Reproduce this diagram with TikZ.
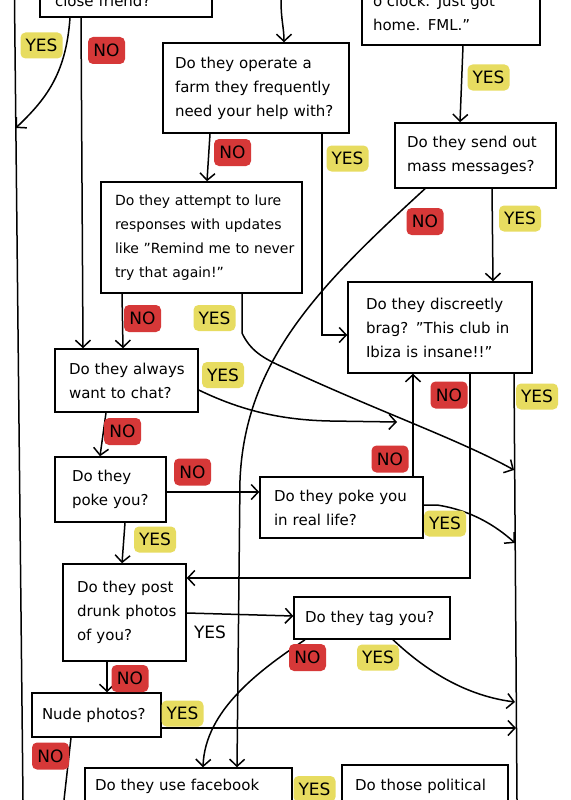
\documentclass[tikz,border=0pt]{standalone}
\usepackage{fontspec}
\setmainfont{DejaVu Sans}
\usetikzlibrary{arrows.meta}
\definecolor{yesc}{RGB}{231,220,96}
\definecolor{noc}{RGB}{214,56,56}
\newcommand\myline[1]{\mbox{#1}}
\begin{document}
\begin{tikzpicture}[x=1pt,y=-1pt,
  qbox/.style={draw, line width=1.5pt, inner ysep=0pt, align=left, font=\fontsize{15}{24}\selectfont},
  yeslab/.style={fill=yesc, rounded corners=5pt, inner sep=2pt, minimum width=42pt, minimum height=26pt, font=\fontsize{17}{17}\selectfont},
  nolab/.style={fill=noc, rounded corners=5pt, inner sep=2pt, minimum width=37pt, minimum height=27pt, font=\fontsize{17}{17}\selectfont},
  plainlab/.style={inner sep=2pt, font=\fontsize{17}{17}\selectfont},
  conn/.style={line width=1.5pt},
  arr/.style={conn, -{Straight Barb[length=7pt,width=15pt]}},
]
\useasboundingbox (0,0) rectangle (570,800);
\fill[white] (0,0) rectangle (570,800);
\clip (0,0) rectangle (570,800);

% question boxes
\node[qbox, minimum height=33pt, text width=142pt, inner xsep=15pt] (b1) at (126,0.5) {\myline{close friend?}};
\node[qbox, minimum height=65pt, text width=156pt, inner xsep=11pt] (b2) at (451,12.5) {\myline{o'clock. Just got}\\\myline{home. FML."}};
\node[qbox, minimum height=90pt, text width=162pt, inner xsep=12pt] (b3) at (256,88) {\myline{Do they operate a}\\\myline{farm they frequently}\\\myline{need your help with?}};
\node[qbox, minimum height=65pt, text width=137pt, inner xsep=12pt] (b4) at (475.5,155.5) {\myline{Do they send out}\\\myline{mass messages?}};
\node[qbox, minimum height=111pt, text width=173pt, inner xsep=14pt, font=\fontsize{14}{24}\selectfont] (b5) at (201.5,237.5) {\myline{Do they attempt to lure}\\\myline{responses with updates}\\\myline{like "Remind me to never}\\\myline{try that again!"}};
\node[qbox, minimum height=91pt, text width=148pt, inner xsep=18pt] (b6) at (440,327.5) {\myline{Do they discreetly}\\\myline{brag? "This club in}\\\myline{Ibiza is insane!!"}};
\node[qbox, minimum height=63pt, text width=115pt, inner xsep=14pt] (b7) at (126.5,380.5) {\myline{Do they always}\\\myline{want to chat?}};
\node[qbox, minimum height=65pt, text width=77pt, inner xsep=17pt] (b8) at (110.5,489.5) {\myline{Do they}\\\myline{poke you?}};
\node[qbox, minimum height=61pt, text width=135pt, inner xsep=14pt] (b9) at (341.5,507.5) {\myline{Do they poke you}\\\myline{in real life?}};
\node[qbox, minimum height=97pt, text width=95pt, inner xsep=14pt] (b10) at (124.5,612.5) {\myline{Do they post}\\\myline{drunk photos}\\\myline{of you?}};
\node[qbox, minimum height=42pt, text width=134pt, inner xsep=11pt] (b11) at (372,618) {\myline{Do they tag you?}};
\node[qbox, minimum height=44pt, text width=109pt, inner xsep=10pt] (b12) at (96.5,715) {\myline{Nude photos?}};
\node[qbox, minimum height=37pt, text width=187pt, inner xsep=10pt] (b13) at (188.5,786.5) {\myline{Do they use facebook}};
\node[qbox, minimum height=43pt, text width=140pt, inner xsep=13pt] (b14) at (425,786.5) {\myline{Do those political}};

% free ends
\coordinate (ltop) at (14.5,0);
\coordinate (lbot) at (23,800);
\coordinate (lhit) at (15.8,128);
\coordinate (topin) at (281,0);
\coordinate (rbot) at (517,800);
\coordinate (r1) at (514,470);
\coordinate (r2) at (515,543);
\coordinate (r3) at (515,702);
\coordinate (r4) at (516,728);
\coordinate (c7) at (397,422);
\coordinate (nobot) at (64,800);

% connectors
\draw[conn] (ltop) -- (lbot);
\draw[conn] ([xshift=74pt]b6.south) -- (rbot);
\draw[arr] ([xshift=-56pt]b1.south) .. controls (66,75) and (45,100) .. (lhit);
\draw[arr] ([xshift=-45pt]b1.south) -- ([xshift=-43.5pt]b7.north);
\draw[arr] (topin) .. controls (281,20) and (284,28) .. ([xshift=28pt]b3.north);
\draw[arr] ([xshift=12pt]b2.south) -- ([xshift=-15.5pt]b4.north);
\draw[arr] ([xshift=-46pt]b3.south) -- ([xshift=5.5pt]b5.north);
\draw[arr] ([xshift=66pt]b3.south) |- ([yshift=-7.5pt]b6.west);
\draw[arr] ([xshift=16.5pt]b4.south) -- ([xshift=53pt]b6.north);
\draw[arr] ([xshift=-50.5pt]b4.south) .. controls (320,285) and (245,360) .. (240,480) -- ([xshift=48.5pt]b13.north);
\draw[arr] ([xshift=-79.5pt]b5.south) -- ([xshift=-3.5pt]b7.north);
\draw[arr] ([xshift=40.5pt]b5.south) -- (242,333) .. controls (250,350) and (262,358) .. (285,368) .. controls (380,412) and (460,440) .. (r1);
\draw[arr] ([yshift=-9.5pt]b7.east) .. controls (240,410) and (280,420) .. (330,421) -- (c7);
\draw[arr] ([xshift=-20.5pt]b7.south) -- ([xshift=-10.5pt]b8.north);
\draw[arr] ([yshift=-2.5pt]b8.east) -- ([yshift=15.5pt]b9.west);
\draw[arr] ([xshift=14.5pt]b8.south) -- ([xshift=-2.5pt]b10.north);
\draw[arr] ([xshift=71.5pt]b9.north) -- ([xshift=-27pt]b6.south);
\draw[arr] ([yshift=2.5pt]b9.east) -- (437,505) .. controls (470,510) and (495,525) .. (r2);
\draw[arr] ([xshift=30pt]b6.south) |- ([yshift=34.5pt]b10.east);
\draw[arr] ([yshift=-0.5pt]b10.east) -- ([yshift=2pt]b11.west);
\draw[arr] ([xshift=-17.5pt]b10.south) -- ([xshift=10.5pt]b12.north);
\draw[arr] ([xshift=-67pt]b11.south) .. controls (260,670) and (205,710) .. ([xshift=14.5pt]b13.north);
\draw[arr] ([xshift=21pt]b11.south) .. controls (420,665) and (460,695) .. (r3);
\draw[arr] ([yshift=-13pt]b12.east) -- (r4);
\draw[conn] ([xshift=-25.5pt]b12.south) -- (nobot);

% labels
\node[yeslab] (y1) at (41.5,45.5) {YES};
\node[nolab] (n1) at (106.5,50.5) {NO};
\node[yeslab] (y2) at (488.5,77.5) {YES};
\node[nolab] (n3) at (232.5,152.5) {NO};
\node[yeslab] (y3) at (347.5,158.5) {YES};
\node[nolab] (n4) at (425,221.5) {NO};
\node[yeslab] (y4) at (520,218.5) {YES};
\node[nolab] (n5) at (142.5,318.5) {NO};
\node[yeslab] (y5) at (214.5,318) {YES};
\node[yeslab] (y7) at (223,375) {YES};
\node[nolab] (n6) at (449,395) {NO};
\node[yeslab] (y6) at (537,396.5) {YES};
\node[nolab] (n7) at (122.5,431.5) {NO};
\node[nolab] (n9) at (390,459) {NO};
\node[nolab] (n8) at (192.5,472) {NO};
\node[yeslab] (y9) at (445,523.5) {YES};
\node[yeslab] (y8) at (155,539.5) {YES};
\node[plainlab] (y10) at (210,632.5) {YES};
\node[nolab] (n11) at (307.5,657.5) {NO};
\node[yeslab] (y11) at (378,657.5) {YES};
\node[nolab] (n10) at (130,678.5) {NO};
\node[yeslab] (y12) at (182.5,713.5) {YES};
\node[nolab] (n12) at (50.5,756) {NO};
\node[yeslab] (y13) at (314.5,789) {YES};
\end{tikzpicture}
\end{document}
